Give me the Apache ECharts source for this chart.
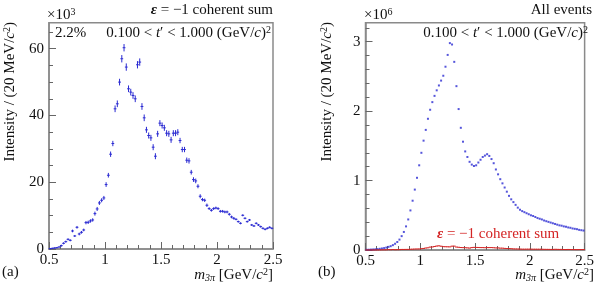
<!DOCTYPE html>
<html>
<head>
<meta charset="utf-8">
<script src="https://cdn.jsdelivr.net/npm/echarts@6/dist/echarts.min.js"></script>
<style>
  html, body { margin: 0; padding: 0; background: #fff; }
  #chart { width: 597px; height: 286px; }
</style>
</head>
<body>
<div id="chart"></div>
<script>
// histogram binning of m_3pi (GeV/c^2)
const binLow = 0.5;
const binWidth = 0.02;
const nBins = 100;
const massCenters = Array.from({ length: nBins }, (_, i) =>
  +(binLow + binWidth * (i + 0.5)).toFixed(3)
);

// (a) epsilon = -1 coherent sum, units of 10^3
const epsMinus1 = [
  0.1, 0.2, 0.3, 0.4, 0.6, 1.0, 1.7, 2.2, 2.9, 2.6,
  5.4, 3.9, 6.5, 4.5, 5.0, 5.7, 7.9, 8.0, 8.4, 8.7,
  10.6, 12.0, 13.8, 14.6, 15.3, 19.3, 22.1, 28.4, 31.6, 42.0,
  43.5, 50.0, 57.0, 60.3, 54.5, 48.0, 47.0, 46.0, 45.0, 55.2,
  56.0, 42.7, 39.3, 35.7, 34.0, 33.3, 30.5, 27.8, 34.5, 37.7,
  37.0, 36.3, 34.7, 34.5, 32.7, 34.7, 34.7, 35.0, 32.5, 29.8,
  29.8, 26.6, 26.4, 23.0, 20.8, 20.4, 18.8, 15.8, 14.8, 14.6,
  13.1, 12.1, 11.6, 12.1, 12.3, 12.1, 11.3, 11.3, 11.1, 11.1,
  10.4, 9.6, 9.2, 8.9, 8.2, 7.7, 10.1, 9.2, 8.2, 8.7,
  7.2, 6.9, 7.7, 7.2, 6.7, 6.2, 5.9, 6.2, 6.5, 6.2
];
const epsMinus1Err = [
  0.2, 0.2, 0.2, 0.2, 0.2, 0.3, 0.3, 0.3, 0.3, 0.3,
  0.4, 0.3, 0.4, 0.4, 0.4, 0.4, 0.5, 0.5, 0.5, 0.5,
  0.6, 0.6, 0.6, 0.6, 0.6, 0.7, 0.7, 0.8, 0.8, 1.0,
  1.0, 1.0, 1.1, 1.1, 1.1, 1.0, 1.0, 1.0, 1.0, 1.1,
  1.1, 1.0, 1.0, 0.9, 0.9, 0.9, 0.9, 0.9, 0.9, 0.9,
  0.9, 0.9, 0.9, 0.9, 0.9, 0.9, 0.9, 0.9, 0.8, 0.8,
  0.8, 0.8, 0.8, 0.7, 0.7, 0.7, 0.6, 0.6, 0.5, 0.5,
  0.5, 0.4, 0.4, 0.4, 0.4, 0.4, 0.4, 0.4, 0.4, 0.4,
  0.4, 0.4, 0.4, 0.3, 0.3, 0.3, 0.3, 0.3, 0.3, 0.3,
  0.3, 0.3, 0.3, 0.3, 0.3, 0.3, 0.3, 0.3, 0.3, 0.3
];

// (b) all events, units of 10^6
const allEvents = [
  0.003, 0.004, 0.006, 0.008, 0.010, 0.013, 0.017, 0.022, 0.028, 0.035,
  0.045, 0.055, 0.070, 0.090, 0.115, 0.150, 0.200, 0.260, 0.340, 0.440,
  0.570, 0.710, 0.870, 1.040, 1.220, 1.400, 1.575, 1.730, 1.890, 2.020,
  2.130, 2.220, 2.300, 2.370, 2.440, 2.510, 2.640, 2.810, 2.980, 2.960,
  2.710, 2.360, 2.030, 1.760, 1.560, 1.420, 1.340, 1.270, 1.230, 1.210,
  1.220, 1.260, 1.300, 1.340, 1.360, 1.380, 1.355, 1.310, 1.250, 1.160,
  1.090, 1.020, 0.960, 0.900, 0.840, 0.780, 0.730, 0.690, 0.650, 0.610,
  0.580, 0.560, 0.545, 0.530, 0.515, 0.500, 0.490, 0.475, 0.460, 0.450,
  0.440, 0.425, 0.415, 0.405, 0.395, 0.385, 0.375, 0.365, 0.355, 0.350,
  0.340, 0.335, 0.325, 0.320, 0.310, 0.305, 0.300, 0.290, 0.285, 0.280
];

// tick positions
const xMajorTicks = [0.5, 1, 1.5, 2, 2.5];
const leftYMajor = [0, 20, 40, 60];
const leftYMinor = [5, 10, 15, 25, 30, 35, 45, 50, 55, 65];
const rightYMajor = [0, 1, 2, 3];
const rightYMinor = [0.2, 0.4, 0.6, 0.8, 1.2, 1.4, 1.6, 1.8, 2.2, 2.4, 2.6, 2.8, 3.2];

const FONT = "'Liberation Serif', 'DejaVu Serif', serif";
const BLUE = "#2a2ad2";
const RED = "#d42424";
const FRAME = "#8a8a8a";

const chart = echarts.init(document.getElementById("chart"), null, { renderer: "canvas" });

function errorBars(color) {
  return function (params, api) {
    const x = api.value(0);
    const y = api.value(1);
    const e = api.value(2);
    const p = api.coord([x, y]);
    const lo = api.coord([x, y - e]);
    const hi = api.coord([x, y + e]);
    return {
      type: "group",
      children: [
        { type: "line", shape: { x1: p[0], y1: lo[1], x2: p[0], y2: hi[1] }, style: { stroke: color, lineWidth: 1 } },
        { type: "line", shape: { x1: p[0] - 1.4, y1: p[1], x2: p[0] + 1.4, y2: p[1] }, style: { stroke: color, lineWidth: 1 } },
      ],
    };
  };
}

function xAxisFor(gridIndex) {
  return {
    gridIndex: gridIndex,
    type: "value",
    min: 0.5,
    max: 2.5,
    interval: 0.5,
    axisLine: { show: true, onZero: false, lineStyle: { color: FRAME, width: 1.5 } },
    axisTick: { show: true, inside: true, length: 7, lineStyle: { color: "#666" } },
    minorTick: { show: true, splitNumber: 5, length: 4, lineStyle: { color: "#666" } },
    splitLine: { show: false },
    axisLabel: {
      margin: 4,
      fontFamily: FONT,
      fontSize: 15,
      color: "#111",
      customValues: xMajorTicks,
    },
  };
}

function yMajor(gridIndex, max, ticks) {
  return {
    gridIndex: gridIndex,
    type: "value",
    min: 0,
    max: max,
    axisLine: { show: true, lineStyle: { color: FRAME, width: 1.5 } },
    axisTick: { show: true, inside: true, length: 7, customValues: ticks, lineStyle: { color: "#666" } },
    splitLine: { show: false },
    axisLabel: { margin: 5, fontFamily: FONT, fontSize: 15, color: "#111", customValues: ticks },
  };
}

function yMinor(gridIndex, max, ticks) {
  return {
    gridIndex: gridIndex,
    type: "value",
    position: "left",
    min: 0,
    max: max,
    axisLine: { show: false },
    axisTick: { show: true, inside: true, length: 4, customValues: ticks, lineStyle: { color: "#666" } },
    splitLine: { show: false },
    axisLabel: { show: false },
  };
}

const rich = {
  i: { fontFamily: FONT, fontSize: 15, fontStyle: "italic" },
  e: { fontFamily: FONT, fontSize: 15, fontStyle: "italic", fontWeight: "bold" },
  sup: { fontFamily: FONT, fontSize: 10, verticalAlign: "top", padding: [0, 0, 6, 0] },
  sub: { fontFamily: FONT, fontSize: 10, fontStyle: "italic", verticalAlign: "bottom", padding: [6, 0, 0, 0] },
};

function label(x, y, text, opts) {
  opts = opts || {};
  const r = Object.assign({}, rich);
  if (opts.fill) r.e = Object.assign({}, rich.e, { fill: opts.fill });
  return {
    type: "text",
    x: x,
    y: y,
    rotation: opts.rotation || 0,
    silent: true,
    z: 100,
    style: {
      text: text,
      fontFamily: FONT,
      fontSize: 15,
      fill: opts.fill || "#111",
      textAlign: opts.align || "left",
      textVerticalAlign: "middle",
      rich: r,
    },
  };
}

const option = {
  backgroundColor: "#fff",
  animation: false,
  textStyle: { fontFamily: FONT },
  grid: [
    { left: 49, top: 22.7, width: 224, height: 226.3, show: true, borderColor: FRAME, borderWidth: 1.5 },
    { left: 365.5, top: 22.7, width: 228, height: 227.3, show: true, borderColor: FRAME, borderWidth: 1.5 },
  ],
  xAxis: [xAxisFor(0), xAxisFor(1)],
  yAxis: [
    yMajor(0, 67.8, leftYMajor),
    yMinor(0, 67.8, leftYMinor),
    yMajor(1, 3.274, rightYMajor),
    yMinor(1, 3.274, rightYMinor),
  ],
  series: [
    {
      name: "eps-1 (a)",
      type: "custom",
      xAxisIndex: 0,
      yAxisIndex: 0,
      renderItem: errorBars(BLUE),
      encode: { x: 0, y: 1 },
      data: massCenters.map((m, i) => [m, epsMinus1[i], epsMinus1Err[i]]),
      z: 5,
    },
    {
      name: "all events",
      type: "scatter",
      xAxisIndex: 1,
      yAxisIndex: 2,
      symbol: "rect",
      symbolSize: 2,
      itemStyle: { color: BLUE },
      data: massCenters.map((m, i) => [m, allEvents[i]]),
      z: 5,
    },
    {
      name: "eps-1 (b)",
      type: "custom",
      xAxisIndex: 1,
      yAxisIndex: 2,
      renderItem: errorBars(RED),
      encode: { x: 0, y: 1 },
      // same quantity as panel (a), converted from 10^3 to 10^6
      data: massCenters.map((m, i) => [m, epsMinus1[i] / 1000, epsMinus1Err[i] / 1000]),
      z: 6,
    },
  ],
  graphic: [
    label(273, 10, "{e|ε} = −1 coherent sum", { align: "right" }),
    label(47, 15, "×10{sup|3}"),
    label(55, 33, "2.2%"),
    label(271, 33, "0.100 < {i|t}′ < 1.000 (GeV/{i|c}){sup|2}", { align: "right" }),
    label(10, 22, "Intensity / (20 MeV/{i|c}{sup|2})", { align: "right", rotation: Math.PI / 2 }),
    label(273, 275, "{i|m}{sub|3π} [GeV/{i|c}{sup|2}]", { align: "right" }),
    label(2, 272, "(a)"),

    label(592, 10, "All events", { align: "right" }),
    label(364, 15, "×10{sup|6}"),
    label(588, 33, "0.100 < {i|t}′ < 1.000 (GeV/{i|c}){sup|2}", { align: "right" }),
    label(327, 22, "Intensity / (20 MeV/{i|c}{sup|2})", { align: "right", rotation: Math.PI / 2 }),
    label(594, 275, "{i|m}{sub|3π} [GeV/{i|c}{sup|2}]", { align: "right" }),
    label(318, 272, "(b)"),
    label(437, 234, "{e|ε} = −1 coherent sum", { fill: RED }),
  ],
};

chart.setOption(option);
</script>
</body>
</html>
